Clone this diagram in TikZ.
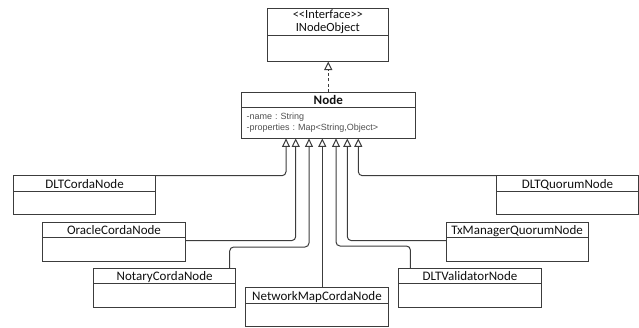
\documentclass[tikz,border=0pt]{standalone}
\usepackage{fontspec}
\setmainfont{Carlito}
\newfontfamily\attrfont{Liberation Sans}
\usetikzlibrary{positioning, arrows.meta}
\definecolor{umlline}{RGB}{60,60,60}
\definecolor{umltext}{RGB}{15,15,15}
\definecolor{attrgray}{RGB}{80,80,80}

\begin{document}
\begin{tikzpicture}[x=1pt, y=-1pt, font=\fontsize{13}{15}\selectfont,
      cls/.style={draw=umlline, line width=1pt, outer sep=0pt, inner sep=0pt,
                  anchor=north west, minimum width=142.2pt, text=umltext},
      clsname/.style={text height=12.6pt, text depth=2.7pt},
      clsbody/.style={draw=umlline, line width=1pt, outer sep=0pt,
                  minimum width=142.2pt, minimum height=23.7pt, below=0pt of #1},
      inh/.style={draw=umlline, line width=1pt, rounded corners=4pt,
                  -{Triangle[open, length=8.5pt, width=8pt]}},
      real/.style={inh, rounded corners=0pt, dash pattern=on 3pt off 2.5pt}]
    \useasboundingbox (0,0) rectangle (639,327);

    % interface and base class
    \node[cls, minimum width=120.3pt, minimum height=26.7pt, inner ysep=0pt, align=center,
          font=\fontsize{12.5}{13.6}\selectfont] (inode) at (267.7,8.3)
          {<\kern0pt<Interface>\kern0pt>\\INodeObject};
    \node[clsbody=inode, minimum width=120.3pt, minimum height=26.5pt] (inode-b) {};
    \node[cls, clsname, minimum width=173.5pt, font=\bfseries\fontsize{13}{15}\selectfont]
          (base) at (241.5,92.3) {Node};
    \node[clsbody=base, minimum width=173.5pt, minimum height=30.8pt, align=left,
          text width=163.5pt, inner xsep=5pt, text=attrgray,
          font=\attrfont\fontsize{9}{11}\selectfont\frenchspacing] (base-b)
          {-name : String\\-properties : Map<String,Object>};

    % subclasses
    \node[cls, clsname] (dltcorda) at (13.5,175.7) {DLTCordaNode};
    \node[clsbody=dltcorda] (dltcorda-b) {};
    \node[cls, clsname] (oracle) at (42.9,222.3) {OracleCordaNode};
    \node[clsbody=oracle] (oracle-b) {};
    \node[cls, clsname] (notary) at (93.5,268.3) {NotaryCordaNode};
    \node[clsbody=notary] (notary-b) {};
    \node[cls, clsname] (netmap) at (245.9,287.7) {NetworkMapCordaNode};
    \node[clsbody=netmap] (netmap-b) {};
    \node[cls, clsname] (validator) at (398.9,268.3) {DLTValidatorNode};
    \node[clsbody=validator] (validator-b) {};
    \node[cls, clsname] (txmanager) at (446,222.3) {TxManagerQuorumNode};
    \node[clsbody=txmanager] (txmanager-b) {};
    \node[cls, clsname] (dltquorum) at (496.4,175.7) {DLTQuorumNode};
    \node[clsbody=dltquorum] (dltquorum-b) {};

    % connectors
    \foreach \i/\dx in {1/44.5, 2/54.2, 3/67.5, 4/80.8, 5/94.5, 6/105.8, 7/116.8}
      \coordinate (p\i) at ([xshift=\dx pt]base-b.south west);
    \coordinate (notarybend) at ([yshift=21.3pt]notary.north east);
    \coordinate (validatorbend) at ([yshift=22.3pt]validator.north west);

    \draw[real] (base.north) -- (base.north |- inode-b.south);
    \draw[inh] (dltcorda.north east) -| (p1);
    \draw[inh] ([yshift=-3pt]oracle-b.north east) -| (p2);
    \draw[inh] ([xshift=-6pt]notary.north east) |- (notarybend -| p3) -- (p3);
    \draw[inh] (p4 |- netmap.north) -- (p4);
    \draw[inh] ([xshift=11.5pt]validator.north west) |- (validatorbend -| p5) -- (p5);
    \draw[inh] ([yshift=-3pt]txmanager-b.north west) -| (p6);
    \draw[inh] (dltquorum.north west) -| (p7);
  \end{tikzpicture}
\end{document}
